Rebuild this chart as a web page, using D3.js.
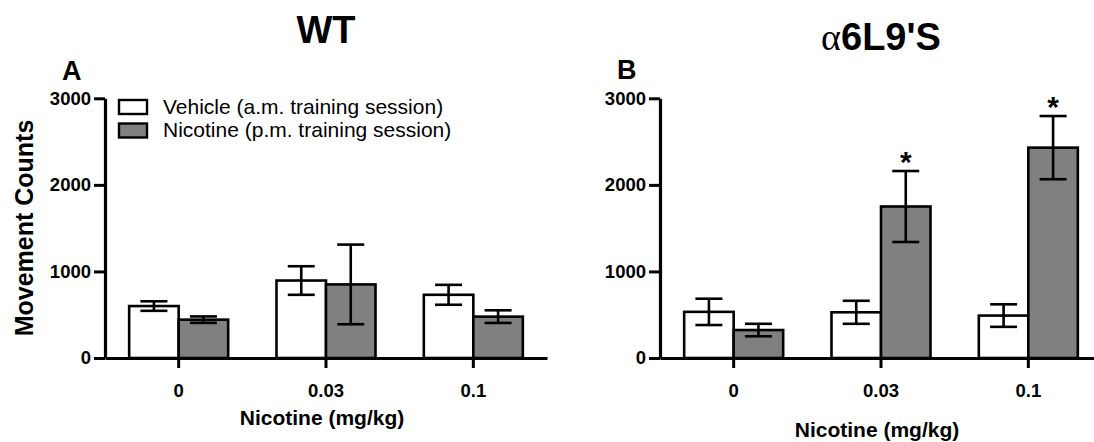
<!DOCTYPE html>
<html>
<head>
<meta charset="utf-8">
<script src="https://cdn.jsdelivr.net/npm/d3@7"></script>
<style>
  body { margin: 0; background: #fff; }
  svg { display: block; font-family: "Liberation Sans", Arial, sans-serif; }
</style>
</head>
<body>
<svg></svg>
<script>
// categories and values
const doses = ["0", "0.03", "0.1"];
const groups = ["vehicle", "nicotine"];
const yTicks = [0, 1000, 2000, 3000];

const wtVehicle = [600, 895, 730];
const wtVehicleSem = [55, 165, 115];
const wtNicotine = [443, 850, 478];
const wtNicotineSem = [37, 460, 73];

const mutVehicle = [533, 528, 490];
const mutVehicleSem = [152, 133, 130];
const mutNicotine = [323, 1750, 2430];
const mutNicotineSem = [72, 410, 365];
const mutStars = [false, true, true];

const legendLabels = ["Vehicle (a.m. training session)", "Nicotine (p.m. training session)"];

const width = 1094;
const height = 442;
const plotWidth = 442;
const fills = {vehicle: "#ffffff", nicotine: "#808080"};

const svg = d3.select("svg")
    .attr("width", width)
    .attr("height", height)
    .attr("viewBox", [0, 0, width, height]);

const y = d3.scaleLinear()
    .domain([0, 3000])
    .range([358, 98.3]);

function rows(veh, vehSem, nic, nicSem, stars) {
  return doses.map((d, i) => ({
    dose: d,
    values: [
      {key: "vehicle", mean: veh[i], sem: vehSem[i], star: false},
      {key: "nicotine", mean: nic[i], sem: nicSem[i], star: stars ? stars[i] : false}
    ]
  }));
}

function panel(left, data, {letter, letterY, title, titleY, xTitleY, yTitle}) {
  const g = svg.append("g").attr("transform", `translate(${left},0)`);

  const x = d3.scaleBand()
      .domain(doses)
      .range([0, plotWidth])
      .paddingInner(0.328)
      .paddingOuter(0.164);

  const x1 = d3.scaleBand()
      .domain(groups)
      .range([0, x.bandwidth()]);

  // bars
  const grp = g.append("g")
    .selectAll("g")
    .data(data)
    .join("g")
      .attr("transform", d => `translate(${x(d.dose)},0)`);

  grp.selectAll("rect")
    .data(d => d.values)
    .join("rect")
      .attr("x", d => x1(d.key))
      .attr("y", d => y(d.mean))
      .attr("width", x1.bandwidth())
      .attr("height", d => y(0) - y(d.mean))
      .attr("fill", d => fills[d.key])
      .attr("stroke", "#000")
      .attr("stroke-width", 2.6);

  // error bars
  const cap = 13.5;
  const eb = grp.selectAll("g.err")
    .data(d => d.values)
    .join("g")
      .attr("class", "err")
      .attr("stroke", "#000")
      .attr("stroke-width", 2.6)
      .attr("transform", d => `translate(${x1(d.key) + x1.bandwidth() / 2},0)`);
  eb.append("line")
      .attr("y1", d => y(d.mean - d.sem))
      .attr("y2", d => y(d.mean + d.sem));
  eb.append("line")
      .attr("x1", -cap).attr("x2", cap)
      .attr("y1", d => y(d.mean + d.sem))
      .attr("y2", d => y(d.mean + d.sem));
  eb.append("line")
      .attr("x1", -cap).attr("x2", cap)
      .attr("y1", d => y(d.mean - d.sem))
      .attr("y2", d => y(d.mean - d.sem));

  // significance stars
  grp.selectAll("text.star")
    .data(d => d.values.filter(v => v.star))
    .join("text")
      .attr("class", "star")
      .attr("x", d => x1(d.key) + x1.bandwidth() / 2)
      .attr("y", d => y(d.mean + d.sem) + 1)
      .attr("text-anchor", "middle")
      .attr("font-size", 30)
      .attr("font-weight", "bold")
      .text("*");

  // y axis
  g.append("g")
      .call(d3.axisLeft(y).tickValues(yTicks).tickFormat(d3.format("d"))
          .tickSize(11).tickSizeOuter(0).tickPadding(3))
      .call(a => a.select(".domain").attr("stroke-width", 3.2))
      .call(a => a.selectAll(".tick line").attr("stroke-width", 3))
      .call(a => a.selectAll(".tick text")
          .attr("font-size", 18.5)
          .attr("font-weight", "bold")
          .attr("font-family", "Liberation Sans, Arial, sans-serif")
          .attr("fill", "#000"));

  // x axis
  g.append("g")
      .attr("transform", `translate(0,${y(0)})`)
      .call(d3.axisBottom(x).tickSize(10).tickSizeOuter(0).tickPadding(16))
      .call(a => a.select(".domain").attr("stroke-width", 3.2))
      .call(a => a.selectAll(".tick line").attr("stroke-width", 3))
      .call(a => a.selectAll(".tick text")
          .attr("font-size", 18.5)
          .attr("font-weight", "bold")
          .attr("font-family", "Liberation Sans, Arial, sans-serif")
          .attr("fill", "#000"));

  // x title
  g.append("text")
      .attr("x", 217)
      .attr("y", xTitleY)
      .attr("text-anchor", "middle")
      .attr("font-size", 21)
      .attr("font-weight", "bold")
      .text("Nicotine (mg/kg)");

  // panel letter
  g.append("text")
      .attr("x", -43)
      .attr("y", letterY)
      .attr("font-size", 27)
      .attr("font-weight", "bold")
      .text(letter);

  // title
  const t = g.append("text")
      .attr("x", x("0.03") + x.bandwidth() / 2)
      .attr("y", titleY)
      .attr("text-anchor", "middle")
      .attr("font-size", 38)
      .attr("font-weight", "bold");
  title.forEach(part => {
    t.append("tspan")
        .attr("font-family", part.serif ? "Liberation Serif, Times New Roman, serif" : null)
        .attr("font-weight", part.serif ? "normal" : null)
        .text(part.text);
  });

  if (yTitle) {
    g.append("text")
        .attr("transform", `translate(${32.5 - left},228) rotate(-90)`)
        .attr("text-anchor", "middle")
        .attr("font-size", 25)
        .attr("font-weight", "bold")
        .text(yTitle);
  }
  return g;
}

const gA = panel(105, rows(wtVehicle, wtVehicleSem, wtNicotine, wtNicotineSem), {
  letter: "A", letterY: 80, title: [{text: "WT"}], titleY: 43, xTitleY: 425, yTitle: "Movement Counts"
});

panel(660, rows(mutVehicle, mutVehicleSem, mutNicotine, mutNicotineSem, mutStars), {
  letter: "B", letterY: 79, title: [{text: "α", serif: true}, {text: "6L9'S"}], titleY: 50, xTitleY: 437
});

// legend (panel A)
const legend = gA.append("g")
  .selectAll("g")
  .data(legendLabels)
  .join("g")
    .attr("transform", (d, i) => `translate(14,${100 + i * 23.5})`);

legend.append("rect")
    .attr("width", 28)
    .attr("height", 14)
    .attr("fill", (d, i) => fills[groups[i]])
    .attr("stroke", "#000")
    .attr("stroke-width", 2.4);

legend.append("text")
    .attr("x", 44)
    .attr("y", 13.5)
    .attr("font-size", 21)
    .text(d => d);
</script>
</body>
</html>
